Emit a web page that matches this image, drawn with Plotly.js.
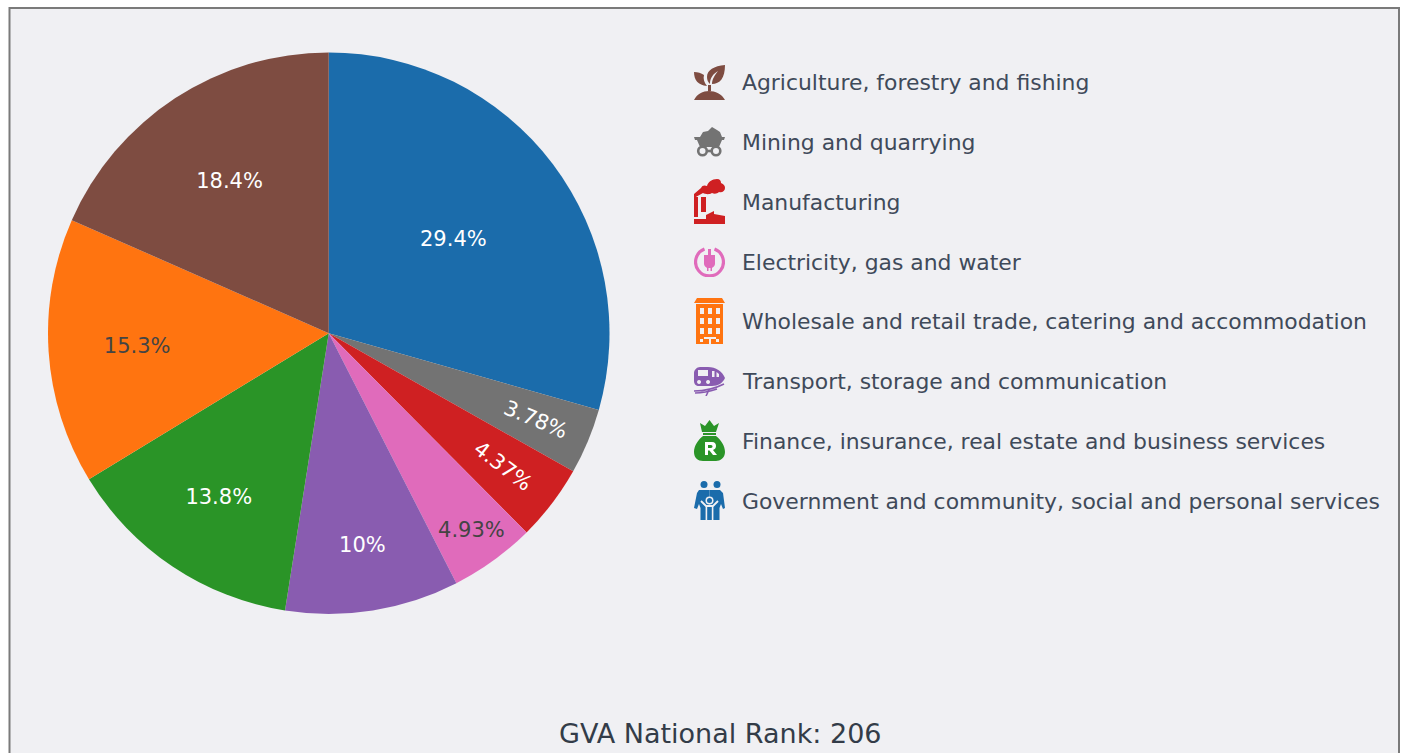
<!DOCTYPE html>
<html>
<head>
<meta charset="utf-8">
<script src="https://cdn.plot.ly/plotly-3.0.1.min.js"></script>
<style>html,body{margin:0;padding:0;background:#fff;overflow:hidden}#chart{width:1405px;height:753px}</style>
</head>
<body>
<div id="chart"></div>
<script>
// Pie, clockwise from 12 o'clock
const pieLabels = ["Government and community, social and personal services","Mining and quarrying","Manufacturing","Electricity, gas and water","Transport, storage and communication","Finance, insurance, real estate and business services","Wholesale and retail trade, catering and accommodation","Agriculture, forestry and fishing"];
const pieValues = [29.4,3.78,4.37,4.93,10,13.8,15.3,18.4];
const pieColors = ["#1b6cab","#737373","#cf2022","#e06bbb","#895cb0","#2a9427","#ff7410","#7e4c41"];
// Key, top to bottom
const keyLabels = ["Agriculture, forestry and fishing","Mining and quarrying","Manufacturing","Electricity, gas and water","Wholesale and retail trade, catering and accommodation","Transport, storage and communication","Finance, insurance, real estate and business services","Government and community, social and personal services"];
const keyY = [82,142,202,262,321,381,441,501];
const iconBox = [[65,100],[127,157],[179,224],[246,277],[298,344],[366,396],[420,461],[481,520]];
const W=1405,H=753;
const iconBody = [
 // leaf
 '<svg xmlns="http://www.w3.org/2000/svg" viewBox="0 0 31 35" preserveAspectRatio="none"><path fill="#7e4c41" d="M31 0C20 1 13 5 13 12c0 3 1 5 3 7 0-6 3-10 8-13-3 4-6 8-6 13 8 0 13-6 13-19zM0 7c0 8 4 13 13 14-3-4-4-7-3-11C7 8 4 7 0 7zM14 20h3v6h-3zM0 35c3-6 9-9 15-9s13 3 16 9z"/></svg>',
 // mine cart
 '<svg xmlns="http://www.w3.org/2000/svg" viewBox="0 0 31 30"><path fill="#737373" d="M6 10l3-5 5-1 4-4 5 3 3 2 2 5zM0 10h31l-1 3h-2l-3 7H6l-3-7H1z"/><g fill="none" stroke="#737373" stroke-width="2.600"><circle cx="8.500" cy="24" r="4.300"/><circle cx="22" cy="24" r="4.300"/></g><path stroke="#737373" stroke-width="2.600" d="M13 24h5"/></svg>',
 // factory
 '<svg xmlns="http://www.w3.org/2000/svg" viewBox="0 0 31 45"><path fill="#cf2022" d="M0 15l7-6c1-3 4-3 6-2 1-4 5-7 10-7 3 0 4 2 4 4 3 1 4 3 4 5 0 3-3 5-6 4-2 2-5 2-7 1-3 2-7 1-9 0l-9 5zM0 18h4v20H0zM7 18h5v15H7zM12 33l0 3 8-4 0 3 11 2v8H0v-5h12z"/></svg>',
 // plug
 '<svg xmlns="http://www.w3.org/2000/svg" viewBox="0 0 31 31"><path fill="none" stroke="#e06bbb" stroke-width="3.200" d="M10.500 3a13.900 13.900 0 1 0 10 0"/><path fill="#e06bbb" d="M14 3h3v6h-3zM10 9h11v9c0 2-2 3-3 4v3h-1.500v-3h-2v3H13v-3c-1-1-3-2-3-4z"/></svg>',
 // building
 '<svg xmlns="http://www.w3.org/2000/svg" viewBox="0 0 31 46"><path fill="#ff7410" fill-rule="evenodd" d="M3 0h25l3 5H0zM2 6h27v40H2zM6 10v6h4v-6zM14 10v6h4v-6zM22 10v6h4v-6zM6 20v6h4v-6zM14 20v6h4v-6zM22 20v6h4v-6zM6 30v6h4v-6zM14 30v6h4v-6zM22 30v6h4v-6zM10 39v2h5v5h2v-5h5v-2zM6 41v3h3v-3zM22 41v3h3v-3z"/></svg>',
 // train
 '<svg xmlns="http://www.w3.org/2000/svg" viewBox="0 0 31 30"><path fill="#895cb0" fill-rule="evenodd" d="M6 1h8c8 0 14 4 17 11-2 5-7 8-13 8H5c-3 0-5-2-5-5V7c0-3 3-6 6-6zM4 4v6h10V4zM18 5v6h2.500V5zM22.500 6v5h2.500V8zM5 14a2 2 0 1 0 .1 0zM14 14a2 2 0 1 0 .1 0z"/><path fill="none" stroke="#895cb0" stroke-width="1.600" d="M0 25c11 0 22-3 30-7M1 27c10 0 16-2 22-4M12 30l3-6"/></svg>',
 // money bag
 '<svg xmlns="http://www.w3.org/2000/svg" viewBox="0 0 31 41"><path fill="#2a9427" d="M6 3l5 3 4.500-6 4.500 6 5-3-3 9H8zM9 13h13v2H9zM9 16h13c5 4 9 10 9 16 0 6-5 9-9 9H9c-5 0-9-3-9-9 0-6 4-12 9-16z"/><path fill="#fff" d="M11 22h7c3 0 4 2 4 4s-1 3-3 4l4 5h-4l-3.500-4.500H14V35h-3zM14 25v3h3c2 0 2-3 0-3z"/></svg>',
 // family
 '<svg xmlns="http://www.w3.org/2000/svg" viewBox="0 0 31 39"><g fill="#1b6cab"><circle cx="10" cy="3.500" r="3.500"/><circle cx="23" cy="3.500" r="3.500"/><path d="M5 9h10.500v16H13v14H6.500V27L5 23l-2 5-3-1 3-15z"/><path d="M26 9H15.500v16H19v14h6.500V27L27 23l2 5 2-1-2-15z"/></g><g fill="none" stroke="#f0f0f3" stroke-width="1.800"><path d="M7 20l5 5h7l5-5"/><path d="M12.500 26v13M18.500 26v13"/></g><circle cx="15.500" cy="19.500" r="4" fill="#f0f0f3"/><circle cx="15.500" cy="19.500" r="2.500" fill="#1b6cab"/><path d="M13.200 26h4.600v13h-4.600z" fill="#1b6cab"/></svg>'
];
const textColor = "#3f4a5a";
const keyFont = "'DejaVu Sans', sans-serif";

const trace = {
  type:"pie", labels:pieLabels, values:pieValues, sort:false, direction:"clockwise", rotation:0,
  marker:{colors:pieColors, line:{width:0}},
  textinfo:"percent", textposition:"inside", insidetextorientation:"auto",
  textfont:{family:"'DejaVu Sans', Verdana, sans-serif", size:21},
  showlegend:false, hoverinfo:"label+percent",
  domain:{x:[48/W,609.5/W], y:[1-614.2/H,1-52.2/H]}
};
const annotations = keyLabels.map((t,i)=>({
  text:t, x:740/W, y:1-keyY[i]/H, xref:"paper", yref:"paper", xanchor:"left", yanchor:"middle",
  showarrow:false, font:{family:keyFont, size:21.9, color:textColor}
}));
annotations.push({text:"GVA National Rank: 206", x:720/W, y:1-733/H, xref:"paper", yref:"paper",
  xanchor:"center", yanchor:"middle", showarrow:false, font:{family:keyFont, size:27, color:"#333c48"}});
const images = iconBody.map((s,i)=>({
  source:"data:image/svg+xml;charset=utf-8,"+encodeURIComponent(s),
  xref:"paper", yref:"paper", x:694/W, y:1-iconBox[i][0]/H,
  sizex:31/W, sizey:(iconBox[i][1]-iconBox[i][0])/H, sizing:"stretch", xanchor:"left", yanchor:"top", layer:"above"
}));
const layout = {
  width:W, height:H, margin:{l:0,r:0,t:0,b:0}, paper_bgcolor:"#ffffff",
  annotations, images,
  shapes:[{type:"rect", xref:"paper", yref:"paper", x0:9.5/W, x1:1399/W, y0:-0.05, y1:1-8/H,
    fillcolor:"#f0f0f3", line:{color:"#7a7a7a", width:2}, layer:"below"}]
};
Plotly.newPlot("chart",[trace],layout,{displayModeBar:false,staticPlot:true});
</script>
</body>
</html>
